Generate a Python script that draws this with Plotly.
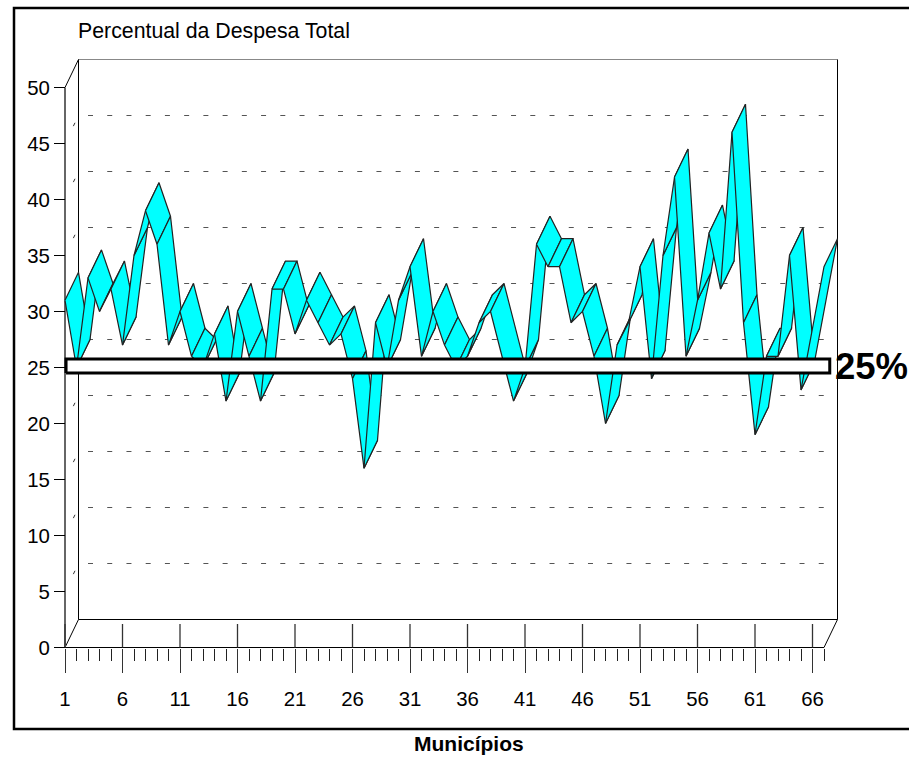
import plotly.graph_objects as go

MUNICIPIOS = list(range(1, 68))
DESPESA = [31, 25, 33, 30, 32, 27, 35, 39, 36, 27,
           30, 26, 25, 28, 22, 30, 26, 22, 32, 32,
           28, 31, 29, 27, 28, 24, 16, 29, 25, 31,
           34, 26, 30, 27, 25, 26, 29, 30, 26, 22,
           25, 36, 34, 34, 29, 30, 26, 20, 27, 29,
           34, 24, 35, 42, 26, 31, 37, 32, 46, 29,
           19, 26, 26, 35, 23, 28.5, 34]
NO_EDGE = [39, 66]
X_TICKS = list(range(1, 67, 5))
Y_TICKS = list(range(0, 51, 5))
LIMITE = 25
LIMITE_LABEL = "25%"
TITLE = "Percentual da Despesa Total"
X_TITLE = "Municípios"

W, H = 909, 757
PX_X, PX_Y = 11.5, 11.2
X0_PX, Y0_PX = 65.0, 647.5
DX, DY = 13.5 / PX_X, 2.5
X_END = MUNICIPIOS[-1]
Y_TOP = Y_TICKS[-1]
FONT = "Liberation Sans"

fig = go.Figure()


def line(xs, ys, color="black", width=1, dash="solid"):
    fig.add_trace(go.Scatter(x=xs, y=ys, mode="lines",
                             line=dict(color=color, width=width, dash=dash),
                             hoverinfo="skip", showlegend=False))


# back-wall gridlines
for v in Y_TICKS[1:]:
    line([3, X_END], [v + DY, v + DY], color="#555555", dash="5px,14.23px")
line([1 + DX, X_END + DX], [Y_TOP + DY, Y_TOP + DY], color="#888888")

# side-wall gridline dashes
for v in Y_TICKS[1:-1]:
    f0, f1 = 0.62, 0.74
    line([1 + DX * f0, 1 + DX * f1], [v + DY * f0, v + DY * f1], color="#333333")

# walls, floor, depth edges
line([1 + DX, 1 + DX], [DY, Y_TOP + DY])
line([X_END + DX, X_END + DX], [DY, Y_TOP + DY])
line([1 + DX, X_END + DX], [DY, DY])
line([1, 1 + DX, None, 1, 1 + DX, None, X_END, X_END + DX],
     [0, DY, None, Y_TOP, Y_TOP + DY, None, 0, DY])

# axis lines
line([1, 1], [0, Y_TOP], color="#666666", width=2)
line([1, X_END], [0, 0], color="black", width=1)

# upper half of the major x ticks
ux, uy = [], []
for t in X_TICKS:
    ux += [t, t, None]
    uy += [0, 2.1, None]
line(ux, uy, color="#333333", width=1.3)

# ribbon
start = 0
n = len(MUNICIPIOS)
for i in range(1, n):
    if MUNICIPIOS[i] in NO_EDGE:
        continue
    xs = MUNICIPIOS[start:i + 1]
    ys = DESPESA[start:i + 1]
    fig.add_trace(go.Scatter(
        x=xs + [x + DX for x in reversed(xs)] + [xs[0]],
        y=ys + [y + DY for y in reversed(ys)] + [ys[0]],
        mode="lines", fill="toself", fillcolor="#00FFFF",
        line=dict(color="#222222", width=1.2),
        hoverinfo="skip", showlegend=False))
    start = i

# 25% bar
bar_l, bar_r = 1.09, 67.5
bar_b, bar_t = LIMITE - 0.5, LIMITE + 0.75
fig.add_trace(go.Scatter(
    x=[bar_l, bar_r, bar_r, bar_l, bar_l],
    y=[bar_b, bar_b, bar_t, bar_t, bar_b],
    mode="lines", fill="toself", fillcolor="white",
    line=dict(color="black", width=3),
    hoverinfo="skip", showlegend=False))

fig.add_annotation(x=(835 - X0_PX) / PX_X + 1, y=LIMITE + 0.1, xref="x", yref="y",
                   text=f"<b>{LIMITE_LABEL}</b>", showarrow=False, xanchor="left",
                   yanchor="middle", borderpad=0, borderwidth=0,
                   font=dict(family=FONT, size=36.5, color="black"))
fig.add_annotation(x=78 / W, y=1 - 31 / H, xref="paper", yref="paper", text=TITLE,
                   showarrow=False, xanchor="left", yanchor="middle",
                   borderpad=0, borderwidth=0,
                   font=dict(family=FONT, size=21.3, color="black"))
fig.add_annotation(x=468.5 / W, y=1 - 743 / H, xref="paper", yref="paper",
                   text=f"<b>{X_TITLE}</b>", showarrow=False, xanchor="center",
                   yanchor="middle", borderpad=0, borderwidth=0,
                   font=dict(family=FONT, size=21, color="black"))

# outer frame (open at the right, running off the page)
fig.add_shape(type="rect", xref="paper", yref="paper",
              x0=14 / W, x1=1.02, y0=1 - 729 / H, y1=1 - 8 / H,
              line=dict(color="black", width=2.5), fillcolor="rgba(0,0,0,0)")

fig.update_layout(
    width=W, height=H, margin=dict(l=0, r=0, t=0, b=0),
    paper_bgcolor="white", plot_bgcolor="white", showlegend=False,
    hovermode=False, font=dict(family=FONT, size=20.4, color="black"),
    xaxis=dict(
        range=[1 - X0_PX / PX_X, 1 + (W - X0_PX) / PX_X],
        domain=[0, 1], anchor="free", position=1 - Y0_PX / H,
        tickmode="array", tickvals=X_TICKS, ticktext=[str(t) for t in X_TICKS],
        ticks="outside", ticklen=24, tickwidth=1.3, tickcolor="#333333",
        ticklabelstandoff=9, showgrid=False, zeroline=False, showline=False,
        minor=dict(tickmode="array", tickvals=MUNICIPIOS, ticks="outside",
                   ticklen=12.5, tickwidth=1, tickcolor="#222222", showgrid=False),
        tickangle=0, tickfont=dict(family=FONT, size=20.4, color="black"),
    ),
    yaxis=dict(
        range=[(Y0_PX - H) / PX_Y, Y0_PX / PX_Y],
        domain=[0, 1], anchor="free", position=X0_PX / W,
        tickmode="array", tickvals=Y_TICKS, ticktext=[str(t) for t in Y_TICKS],
        ticks="outside", ticklen=11, tickwidth=1, tickcolor="black",
        showgrid=False, zeroline=False, showline=False,
        tickfont=dict(family=FONT, size=20.4, color="black"),
    ),
)

fig.write_html("out.html", config=dict(displayModeBar=False),
               post_script="document.body.style.margin='0';document.documentElement.style.overflow='hidden';")
